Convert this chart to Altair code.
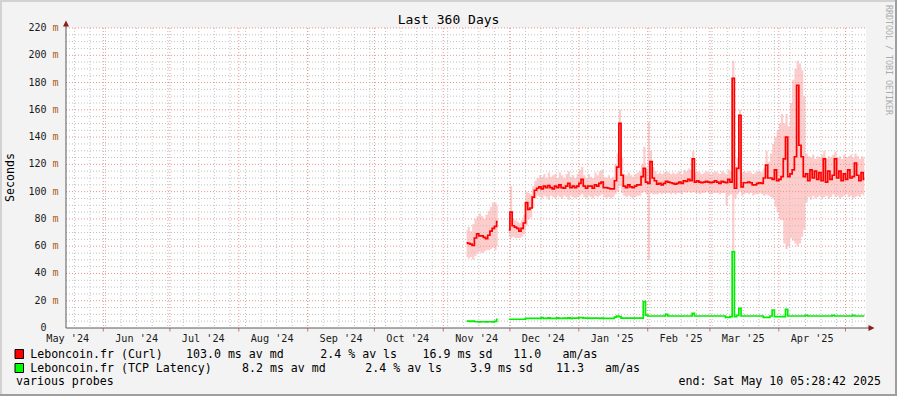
import altair as alt
import pandas as pd

FONT = "DejaVu Sans Mono"

TITLE = "Last 360 Days"
Y_TITLE = "Seconds"
WATERMARK = "RRDTOOL / TOBI OETIKER"
FOOTER = "various probes"
END_TEXT = "end: Sat May 10 05:28:42 2025"

RANGE_START = "2024-05-15T05:28:42Z"
RANGE_END = "2025-05-10T05:28:42Z"
FIRST_SAMPLE = "2024-11-11 12:00"   # daily samples (noon) from here on

Y_TICKS = [0, 20, 40, 60, 80, 100, 120, 140, 160, 180, 200, 220]
MONTH_LABELS = ["May '24", "Jun '24", "Jul '24", "Aug '24", "Sep '24", "Oct '24",
                "Nov '24", "Dec '24", "Jan '25", "Feb '25", "Mar '25", "Apr '25"]

SERIES_NAMES = ["Leboncoin.fr (Curl)", "Leboncoin.fr (TCP Latency)"]
SERIES_COLORS = ["#ff0000", "#00ee00"]
AV_MD = ["103.0 ms av md", "8.2 ms av md"]
AV_LS = ["2.4 % av ls", "2.4 % av ls"]
SD = ["16.9 ms sd", "3.9 ms sd"]
AMAS = ["11.0", "11.3"]

N = None
# Curl median (ms), one value per day
curl_med = [
    62.5, 62, 61.5, 60.5, 66, 69, 67.5, 67.5, 66.5, 65.5,
    68, 71, 73, 74.5, 78, N, N, N, N, 72,
    85, 75, 74, 73, 71, 73, 77, 92, 87, 88,
    96, 101, 102.5, 103.5, 102, 104, 103, 104.5, 103, 102,
    104, 103, 105, 103, 102.5, 104, 106, 103, 104, 103,
    104, 106, 109, 104, 102.5, 104, 104, 102.5, 105, 104,
    106, 107, 103, 103, 102.5, 102, 102, 108, 118, 150,
    112, 104, 103, 105, 103.5, 103, 104, 105, 105, 111,
    117, 107, 106, 122, 110, 108, 105.5, 106, 105, 106,
    107.5, 107, 106.5, 106, 105.5, 106, 107, 106, 108, 107.5,
    109, 108, 124, 107, 108, 107, 106.5, 107, 107.5, 107,
    106.5, 107, 108, 107, 106, 107.5, 107, 106.5, 109, 107,
    183, 102.5, 117, 156, 103.5, 106.5, 106.5, 107, 106.5, 105,
    105, 106, 106.5, 106, 110, 119.5, 110, 110, 109, 116,
    108, 109, 111, 124, 140, 111, 113, 116, 125.6, 178,
    134, 125.6, 111, 113, 108, 116, 110, 115, 109, 114,
    108, 124, 107, 115, 109, 112, 124, 110, 115, 108,
    113, 109, 116, 110, 111, 121, 112, 108, 114, 109,
]
# Curl smoke (min / max spread, ms)
curl_lo = [
    52, 51, 52, 50, 53, 55, 56, 55, 56, 57,
    57, 58, 59, 57, 60, N, N, N, N, 67,
    66, 67, 66, 66, 66, 67, 69, 75, 80, 81,
    88, 95, 97, 96, 95, 97, 96, 94, 97, 96,
    95, 97, 96, 95, 97, 96, 94, 97, 96, 95,
    96, 97, 98, 96, 95, 97, 96, 95, 97, 96,
    97, 98, 96, 95, 96, 95, 96, 98, 100, 104,
    99, 97, 96, 97, 96, 95, 96, 97, 97, 99,
    100, 98, 50, 99, 98, 98, 98, 99, 98, 99,
    99, 99, 98, 99, 98, 99, 99, 98, 100, 99,
    100, 99, 100, 99, 99, 98, 99, 99, 100, 99,
    98, 99, 99, 99, 98, 99, 99, 90, 97, 98,
    57, 95, 98, 100, 97, 98, 99, 98, 99, 97,
    98, 98, 99, 98, 97, 98, 97, 96, 95, 89,
    85, 80, 79, 62, 58, 60, 66, 64, 62, 60,
    62, 67, 72, 92, 96, 94, 97, 95, 96, 97,
    95, 96, 97, 95, 96, 98, 96, 97, 95, 96,
    97, 98, 96, 97, 95, 96, 97, 96, 98, 97,
]
curl_hi = [
    72, 74, 71, 76, 80, 82, 84, 82, 80, 83,
    86, 89, 92, 92, 90, N, N, N, N, 78,
    104, 80, 79, 78, 77, 79, 83, 100, 99, 98,
    104, 108, 110, 112, 111, 113, 110, 114, 111, 112,
    113, 110, 114, 112, 110, 113, 115, 111, 112, 110,
    113, 116, 118, 112, 110, 113, 111, 110, 114, 112,
    115, 116, 111, 110, 112, 110, 111, 120, 128, 160,
    125, 113, 112, 114, 112, 111, 113, 114, 115, 120,
    133, 116, 151, 130, 118, 115, 113, 114, 113, 114,
    115, 114, 113, 114, 113, 114, 115, 113, 116, 115,
    117, 116, 130, 114, 115, 114, 113, 114, 115, 114,
    113, 114, 115, 114, 113, 115, 114, 113, 116, 115,
    196, 118, 125, 160, 114, 115, 114, 115, 114, 113,
    114, 115, 115, 114, 117, 130, 122, 128, 135, 140,
    145, 150, 157, 150, 157, 148, 165, 182, 190, 196,
    194, 189, 170, 128, 126, 125, 127, 124, 126, 125,
    127, 130, 124, 126, 125, 127, 129, 125, 126, 124,
    127, 125, 126, 127, 125, 128, 126, 124, 126, 125,
]
# TCP latency median (ms)
tcp_med = [
    5.0, 5.0, 4.9, 5.0, 4.6, 4.6, 4.5, 4.6, 4.6, 4.5,
    4.6, 4.6, 4.5, 4.9, 6.3, N, N, N, N, 6.4,
    6.4, 6.4, 6.4, 6.4, 6.4, 6.4, 6.4, 7.1, 7.1, 7.1,
    7.1, 7.1, 7.1, 7.1, 7.7, 7.1, 7.1, 7.4, 7.1, 7.1,
    7.1, 7.4, 7.1, 7.1, 7.3, 7.1, 7.4, 7.1, 7.3, 7.3,
    7.3, 7.6, 7.6, 7.3, 7.3, 7.3, 7.1, 7.3, 7.3, 7.3,
    7.1, 7.3, 7.1, 7.1, 7.1, 7.1, 7.1, 8.0, 8.8, 8.3,
    7.3, 7.3, 7.3, 7.3, 7.3, 7.3, 7.3, 7.3, 7.3, 7.3,
    19.3, 9.5, 8.8, 8.8, 8.8, 8.8, 8.8, 8.8, 8.8, 8.8,
    10.0, 8.8, 8.8, 8.8, 8.8, 8.8, 8.8, 8.8, 8.8, 8.8,
    8.8, 8.8, 10.8, 8.8, 8.8, 8.8, 8.8, 8.8, 8.8, 8.8,
    8.8, 8.8, 8.8, 8.8, 8.8, 8.8, 8.8, 7.8, 7.8, 8.3,
    56.0, 8.3, 9.2, 14.4, 8.8, 8.8, 8.8, 8.8, 8.8, 8.8,
    8.8, 8.8, 8.8, 8.8, 7.8, 7.8, 7.8, 8.8, 13.2, 8.3,
    8.3, 8.3, 8.3, 8.3, 13.7, 8.8, 8.8, 8.8, 8.8, 8.8,
    8.8, 8.8, 8.8, 9.3, 8.8, 8.8, 8.8, 8.8, 8.8, 8.8,
    8.8, 8.8, 8.8, 8.8, 8.8, 9.3, 8.8, 8.8, 8.8, 8.8,
    8.8, 8.8, 8.8, 8.8, 9.3, 8.8, 8.8, 8.8, 8.8, 8.8,
]

# ---------------------------------------------------------------- data frames
ISO = "%Y-%m-%dT%H:%M:%SZ"
times = pd.date_range(FIRST_SAMPLE, periods=len(curl_med), freq="D").strftime(ISO)


def segmented(columns):
    rows, seg, gap = [], 0, False
    for i, t in enumerate(times):
        vals = {k: v[i] for k, v in columns.items()}
        if any(v is None for v in vals.values()):
            gap = True
            continue
        if gap and rows:
            seg += 1
        gap = False
        rows.append(dict(t=t, seg=seg, **vals))
    return pd.DataFrame(rows)


curl_df = segmented({"med": curl_med, "lo": curl_lo, "hi": curl_hi})
tcp_df = segmented({"med": tcp_med})

weeks = pd.DataFrame({"d": pd.date_range("2024-05-19", "2025-05-09", freq="7D").strftime(ISO)})
month_starts = pd.date_range("2024-06-01", "2025-05-01", freq="MS")
months = pd.DataFrame({"d": month_starts.strftime(ISO)})
label_pos = pd.date_range("2024-05-01", periods=len(MONTH_LABELS), freq="MS") + pd.Timedelta(days=15)
month_lab = pd.DataFrame({"d": label_pos.strftime(ISO), "lab": MONTH_LABELS})
minor_y = pd.DataFrame({"v": [v for v in range(5, 221, 5) if v % 20]})
major_y = pd.DataFrame({"v": Y_TICKS[1:]})
ylab = pd.DataFrame({"v": Y_TICKS, "lab": [str(v) for v in Y_TICKS]})
ylab_m = pd.DataFrame({"v": Y_TICKS[1:]})
one = pd.DataFrame({"a": [0]})

W, H = 800, 300


def ms(s):
    return int(pd.Timestamp(s).value // 10**6)


xs = alt.Scale(type="utc", domain=[ms(RANGE_START), ms(RANGE_END)])
ys = alt.Scale(domain=[0, 220], zero=False, nice=False)


def X(f):
    return alt.X(f"{f}:T", scale=xs, axis=None)


def Y(f):
    return alt.Y(f"{f}:Q", scale=ys, axis=None)


def text(s, x, y, size=11.6, color="#000000", align="left", baseline="alphabetic", angle=0):
    return alt.Chart(one).mark_text(
        text=s, font=FONT, fontSize=size, color=color, align=align,
        baseline=baseline, angle=angle,
    ).encode(x=alt.value(x), y=alt.value(y))


def rect(x, x2, y, y2, fill, stroke=None):
    kw = dict(fill=fill)
    if stroke:
        kw.update(stroke=stroke, strokeWidth=1)
    else:
        kw.update(strokeWidth=0)
    return alt.Chart(one).mark_rect(**kw).encode(
        x=alt.value(x), x2=alt.value(x2), y=alt.value(y), y2=alt.value(y2))


GRID = "#c2c2c2"
MGRID = "#ee9090"
DASH = [1, 2]

layers = []
# frame of the image
layers += [
    rect(-66, 831, -28, -26, "#d2d2d2"),
    rect(-66, -64, -28, 368, "#d2d2d2"),
    rect(-66, 831, 366, 368, "#9e9e9e"),
    rect(829, 831, -28, 368, "#9e9e9e"),
]
# smoke
layers.append(alt.Chart(curl_df).mark_area(interpolate="step", color="#ffcccc").encode(
    x=X("t"), y=Y("lo"), y2=alt.Y2("hi:Q"), detail="seg:N"))
# grid
layers.append(alt.Chart(weeks).mark_rule(color=GRID, strokeDash=DASH, strokeWidth=1).encode(
    x=X("d"), y=alt.value(0), y2=alt.value(H)))
layers.append(alt.Chart(minor_y).mark_rule(color=GRID, strokeDash=DASH, strokeWidth=1).encode(
    y=Y("v"), x=alt.value(0), x2=alt.value(W)))
layers.append(alt.Chart(months).mark_rule(color=MGRID, strokeDash=DASH, strokeWidth=1).encode(
    x=X("d"), y=alt.value(0), y2=alt.value(H)))
layers.append(alt.Chart(major_y).mark_rule(color=MGRID, strokeDash=DASH, strokeWidth=1).encode(
    y=Y("v"), x=alt.value(0), x2=alt.value(W)))
# month ticks below the axis
layers.append(alt.Chart(months).mark_rule(color="#d87070", strokeWidth=1).encode(
    x=X("d"), y=alt.value(H), y2=alt.value(H + 3.5)))
# series
layers.append(alt.Chart(curl_df).mark_line(interpolate="step", color=SERIES_COLORS[0], strokeWidth=1.7).encode(
    x=X("t"), y=Y("med"), detail="seg:N"))
layers.append(alt.Chart(tcp_df).mark_line(interpolate="step", color=SERIES_COLORS[1], strokeWidth=1.7).encode(
    x=X("t"), y=Y("med"), detail="seg:N"))
# axes lines and arrows
AXIS = "#5a5a5a"
layers.append(alt.Chart(one).mark_rule(color=AXIS, strokeWidth=1).encode(
    x=alt.value(0), y=alt.value(H), y2=alt.value(-3)))
layers.append(alt.Chart(one).mark_rule(color=AXIS, strokeWidth=1).encode(
    x=alt.value(0), x2=alt.value(W + 4), y=alt.value(H)))
layers.append(alt.Chart(one).mark_point(shape="M-1,1L0,-1L1,1Z", filled=True, size=36,
                                        color="#8b1c1c", opacity=1).encode(
    x=alt.value(0), y=alt.value(-4.5)))
layers.append(alt.Chart(one).mark_point(shape="M-1,-1L1,0L-1,1Z", filled=True, size=36,
                                        color="#8b1c1c", opacity=1).encode(
    x=alt.value(W + 5.5), y=alt.value(H)))
# y labels
layers.append(alt.Chart(ylab).mark_text(font=FONT, fontSize=10, color="#1a1a1a", align="right",
                                        baseline="middle").encode(
    y=Y("v"), x=alt.value(-19.5), text="lab:N"))
layers.append(alt.Chart(ylab_m).mark_text(text="m", font=FONT, fontSize=10, color="#a8601e", align="left",
                                          baseline="middle").encode(
    y=Y("v"), x=alt.value(-13.5)))
# x labels
layers.append(alt.Chart(month_lab).mark_text(font=FONT, fontSize=10.2, color="#1a1a1a", align="center",
                                             baseline="alphabetic").encode(
    x=X("d"), y=alt.value(313.5), text="lab:N"))
# titles
layers.append(text(TITLE, 382.5, -4, size=13, align="center"))
layers.append(text(Y_TITLE, -55.5, 149.5, align="center", baseline="middle", angle=270))
layers.append(text(WATERMARK, 821.5, 32, size=8.3, color="#ababab", align="center",
                   baseline="middle", angle=90))
# legend
ROW_Y = [329.5, 343.5]
BOX_Y = [(321.5, 330.5), (335.5, 344.5)]
X_MD = [120, 176]
X_LS = [254.3, 299.3]
X_SD = [356.6, 404]
X_AM = [447.3, 490]
X_AMAS = [496.6, 539]
for k in range(2):
    layers.append(rect(-51, -42.5, BOX_Y[k][0], BOX_Y[k][1], SERIES_COLORS[k] if k == 0 else "#00ff00", "#000000"))
    layers.append(text(SERIES_NAMES[k], -35.8, ROW_Y[k]))
    layers.append(text(AV_MD[k], X_MD[k], ROW_Y[k]))
    layers.append(text(AV_LS[k], X_LS[k], ROW_Y[k]))
    layers.append(text(SD[k], X_SD[k], ROW_Y[k]))
    layers.append(text(AMAS[k], X_AM[k], ROW_Y[k]))
    layers.append(text("am/as", X_AMAS[k], ROW_Y[k]))
layers.append(text(FOOTER, -50, 356.5))
layers.append(text(END_TEXT, 815, 356.5, align="right"))

chart = alt.layer(*layers).properties(
    width=W, height=H,
    padding={"left": 66, "top": 28, "right": 31, "bottom": 68},
    autosize="none",
    background="#f3f3f3",
).configure_view(strokeWidth=0, fill="white")

chart.save("out.html", embed_options={"renderer": "svg", "actions": False})
